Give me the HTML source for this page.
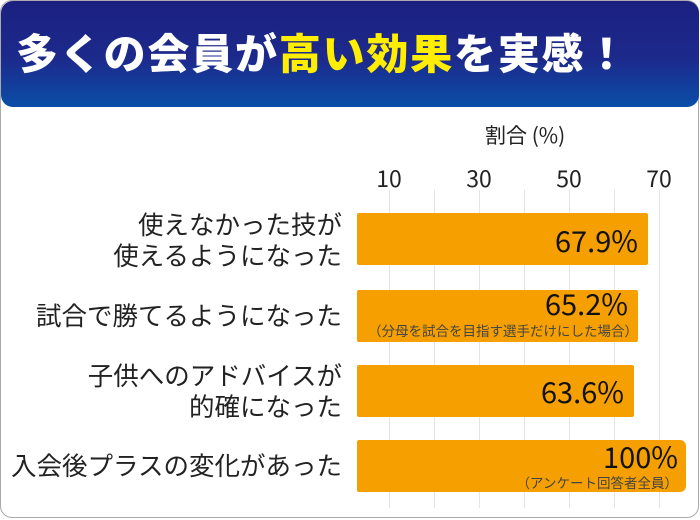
<!DOCTYPE html>
<html><head><meta charset="utf-8"><style>
body{margin:0;width:700px;height:520px;background:#fff;overflow:hidden;font-family:"Liberation Sans","Noto Sans CJK JP",sans-serif;}
.card{position:absolute;left:0;top:0;width:697px;height:516px;border:1.5px solid #aaa;border-radius:12px;background:#fff;}
.hdr{position:absolute;left:1px;top:1px;width:698px;height:106px;border-radius:12px;background:linear-gradient(#1b2080 0%,#1c2a8c 55%,#0a4ea8 100%);}
.title{position:absolute;left:16px;top:28px;font-size:42px;font-weight:900;color:#fff;white-space:nowrap;letter-spacing:1.8px;line-height:48px;font-family:"Noto Sans CJK JP",sans-serif;}
.title span{color:#ffee00}
.grid{position:absolute;top:190px;width:1px;height:318px;background:#e4e4e4}
.tick{position:absolute;top:160px;font-size:23px;color:#222;width:40px;text-align:center;white-space:nowrap;font-family:"Noto Sans CJK JP",sans-serif;}
.bar{position:absolute;left:357px;height:52px;background:#f5a000;border-radius:2px}
.val{position:absolute;font-size:29px;color:#111;text-align:right;font-family:"Noto Sans CJK JP",sans-serif;line-height:32px}
.note{position:absolute;font-size:13.5px;color:#444;text-align:right;white-space:nowrap;font-family:"Noto Sans CJK JP",sans-serif}
.lab{position:absolute;right:358px;font-size:25.5px;color:#222;text-align:right;line-height:31px;white-space:nowrap;font-family:"Noto Sans CJK JP",sans-serif;}
</style></head><body>
<div class="card"></div>
<div class="hdr"></div>
<div class="title">多くの会員が<span>高い効果</span>を実感！</div>
<div class="tick" style="left:485px;top:120px;width:80px;font-size:21px">割合 (%)</div>
<div class="grid" style="left:389px"></div><div class="grid" style="left:434px"></div><div class="grid" style="left:479px"></div><div class="grid" style="left:524px"></div><div class="grid" style="left:569px"></div><div class="grid" style="left:614px"></div><div class="grid" style="left:659px"></div>
<div class="tick" style="left:369px">10</div><div class="tick" style="left:459px">30</div><div class="tick" style="left:549px">50</div><div class="tick" style="left:639px">70</div>
<div class="bar" style="top:213px;width:291px"></div>
<div class="bar" style="top:290px;width:281px"></div>
<div class="bar" style="top:365px;width:277px"></div>
<div class="bar" style="top:440px;width:329px;border-radius:2px 6px 6px 2px"></div>
<div class="val" style="right:62px;top:224px">67.9%</div>
<div class="val" style="right:72px;top:287px">65.2%</div>
<div class="note" style="right:62px;top:320px">（分母を試合を目指す選手だけにした場合）</div>
<div class="val" style="right:76px;top:375px">63.6%</div>
<div class="val" style="right:22px;top:440px">100%</div>
<div class="note" style="right:22px;top:472px">（アンケート回答者全員）</div>
<div class="lab" style="top:208px">使えなかった技が<br>使えるようになった</div>
<div class="lab" style="top:299px">試合で勝てるようになった</div>
<div class="lab" style="top:359px">子供へのアドバイスが<br>的確になった</div>
<div class="lab" style="top:449px">入会後プラスの変化があった</div>
</body></html>
